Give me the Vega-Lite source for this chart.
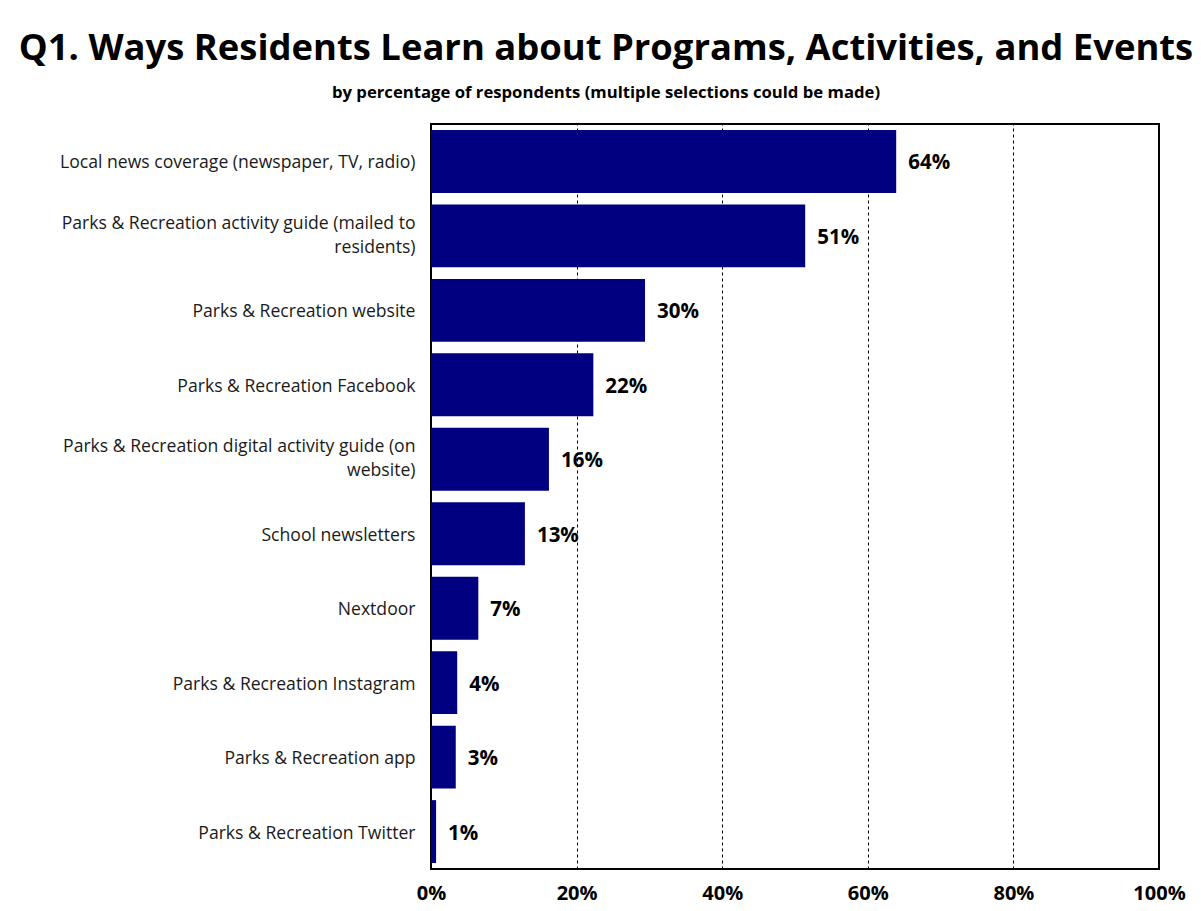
{
  "$schema": "https://vega.github.io/schema/vega-lite/v6.json",
  "width": 728,
  "height": 745,
  "autosize": {"type": "none"},
  "padding": {"left": 431, "top": 124, "right": 42, "bottom": 42},
  "background": "white",
  "title": {
    "text": "Q1. Ways Residents Learn about Programs, Activities, and Events",
    "subtitle": "by percentage of respondents (multiple selections could be made)",
    "anchor": "middle",
    "frame": "group",
    "dx": -189,
    "font": "Open Sans",
    "fontSize": 36.4,
    "fontWeight": "bold",
    "color": "#000000",
    "subtitleFont": "Open Sans",
    "subtitleFontSize": 16.7,
    "subtitleFontWeight": "bold",
    "subtitleColor": "#000000",
    "subtitlePadding": 18,
    "offset": 22
  },
  "data": {
    "values": [
      {"source": "Local news coverage (newspaper, TV, radio)", "pct": 63.9, "label": "64%"},
      {"source": "Parks & Recreation activity guide (mailed to residents)", "pct": 51.4, "label": "51%"},
      {"source": "Parks & Recreation website", "pct": 29.4, "label": "30%"},
      {"source": "Parks & Recreation Facebook", "pct": 22.3, "label": "22%"},
      {"source": "Parks & Recreation digital activity guide (on website)", "pct": 16.2, "label": "16%"},
      {"source": "School newsletters", "pct": 12.9, "label": "13%"},
      {"source": "Nextdoor", "pct": 6.5, "label": "7%"},
      {"source": "Parks & Recreation Instagram", "pct": 3.6, "label": "4%"},
      {"source": "Parks & Recreation app", "pct": 3.4, "label": "3%"},
      {"source": "Parks & Recreation Twitter", "pct": 0.7, "label": "1%"}
    ]
  },
  "encoding": {
    "y": {
      "field": "source",
      "type": "nominal",
      "sort": null,
      "scale": {"paddingInner": 0.155, "paddingOuter": 0.08},
      "axis": {
        "title": null,
        "ticks": false,
        "domain": false,
        "labelFont": "Open Sans",
        "labelFontSize": 17.6,
        "labelColor": "#1a1a1a",
        "labelPadding": 16,
        "labelLimit": 500,
        "labelLineHeight": 24,
        "labelOffset": {"expr": "indexof(datum.value, 'activity guide') >= 0 ? -12 : 2"},
        "labelExpr": "datum.value == 'Parks & Recreation activity guide (mailed to residents)' ? ['Parks & Recreation activity guide (mailed to', 'residents)'] : datum.value == 'Parks & Recreation digital activity guide (on website)' ? ['Parks & Recreation digital activity guide (on', 'website)'] : datum.value"
      }
    },
    "x": {
      "field": "pct",
      "type": "quantitative",
      "scale": {"domain": [0, 100], "nice": false},
      "axis": {
        "title": null,
        "values": [0, 20, 40, 60, 80, 100],
        "labelExpr": "datum.value + '%'",
        "labelFlush": false,
        "ticks": false,
        "domain": false,
        "grid": true,
        "gridDash": [3, 3],
        "gridColor": "#000000",
        "gridWidth": 1,
        "gridOpacity": {"expr": "datum.value == 0 || datum.value == 100 ? 0 : 1"},
        "labelFont": "Open Sans",
        "labelFontSize": 20,
        "labelFontWeight": "bold",
        "labelColor": "#000000",
        "labelPadding": 14
      }
    }
  },
  "layer": [
    {"mark": {"type": "bar", "color": "#000080"}},
    {
      "mark": {"type": "text", "align": "left", "dx": 12, "dy": 2, "font": "Open Sans", "fontSize": 20.5, "fontWeight": "bold", "color": "#000000"},
      "encoding": {"text": {"field": "label"}}
    }
  ],
  "config": {
    "view": {"stroke": "#000000", "strokeWidth": 2}
  }
}
